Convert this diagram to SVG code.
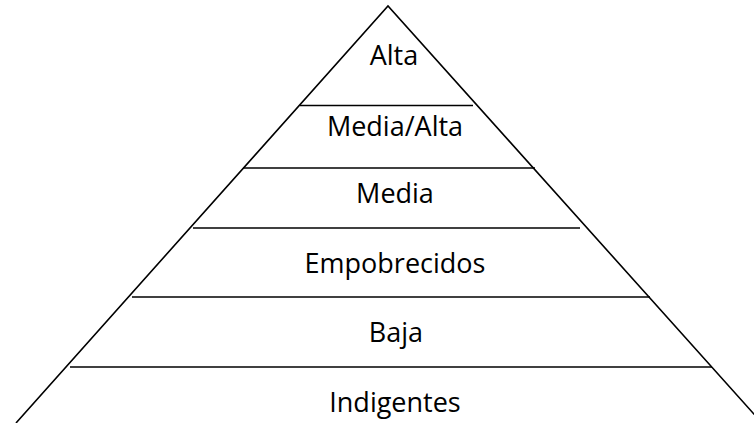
<svg xmlns="http://www.w3.org/2000/svg" width="754" height="423" viewBox="0 0 754 423">
<style>
.ln{stroke:#000;stroke-width:1.6;fill:none}
.t{font-family:"Open Sans","Noto Sans",sans-serif;font-size:27px;fill:#000;text-anchor:middle}
</style>
<rect width="754" height="423" fill="#fff"/>
<g id="connectors">
<polyline class="ln" points="16,423 388,6 762,423"/>
<line class="ln" x1="300" y1="105.5" x2="473" y2="105.5"/>
<line class="ln" x1="243" y1="168" x2="535" y2="168"/>
<line class="ln" x1="193" y1="228" x2="580" y2="228"/>
<line class="ln" x1="132" y1="297" x2="650" y2="297"/>
<line class="ln" x1="70" y1="367" x2="712" y2="367"/>
</g>
<g id="alta"><text class="t" x="394" y="65">Alta</text></g>
<g id="media-alta"><text class="t" x="395" y="136">Media/Alta</text></g>
<g id="media"><text class="t" x="395" y="203">Media</text></g>
<g id="empobrecidos"><text class="t" x="395" y="273">Empobrecidos</text></g>
<g id="baja"><text class="t" x="396" y="342">Baja</text></g>
<g id="indigentes"><text class="t" x="395" y="412">Indigentes</text></g>
</svg>
